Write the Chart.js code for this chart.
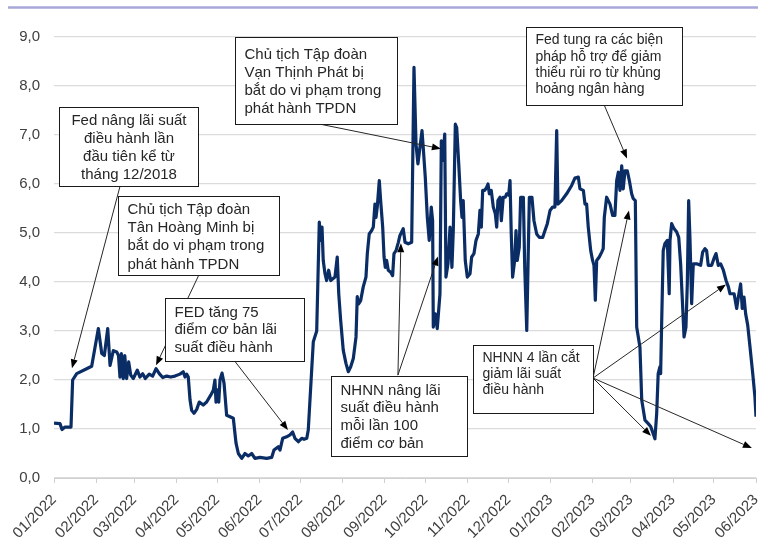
<!DOCTYPE html>
<html>
<head>
<meta charset="utf-8">
<script src="https://cdn.jsdelivr.net/npm/chart.js@4.4.1/dist/chart.umd.min.js"></script>
<style>
  html, body { margin: 0; padding: 0; background: #fff; }
  #wrap { position: relative; width: 758px; height: 544px; }
</style>
</head>
<body>
<div id="wrap"><canvas id="chart" width="758" height="544"></canvas></div>
<script>
// Ngày tính từ 01/01/2022
const dayOffsets = [
  0, 4.4, 5.9, 8.1, 12.5, 13.7, 16.7, 24, 27.7, 32.6,
  35.1, 37, 39.5, 41.2, 43.6, 46.1, 47.4, 48.5, 49.5, 50.9,
  52, 53.4, 54.9, 56.4, 58.3, 61.2, 63.2, 65.2, 67.1, 70,
  72.5, 75, 77.4, 79.9, 82.8, 85.8, 88.9, 92.6, 95, 96.3,
  97.5, 98.7, 100, 101.2, 102.9, 104.9, 106.8, 109.7, 112.2, 115.2,
  117.1, 118.3, 119.1, 120, 121.1, 122, 123.5, 125, 126.9, 129.4,
  131.8, 133.8, 135.5, 138, 140.4, 142.8, 145.3, 147.7, 151.4, 156.3,
  160, 161.7, 164.9, 166.1, 168.1, 171, 173.5, 175.4, 177.1, 179.6,
  182.1, 183.8, 185.8, 186.9, 189.4, 190.6, 193.1, 195, 196, 197,
  197.9, 199.2, 200.4, 201.9, 203.4, 206.5, 208.2, 209.3, 210.7, 212.6,
  214.6, 216.3, 218.1, 220, 222, 222.9, 223.9, 225.4, 227.3, 229.3,
  230.3, 231.7, 233.5, 234.7, 235.9, 236.7, 237.6, 239.1, 240.1, 241.6,
  242.6, 243.5, 244.5, 245.7, 247.5, 248.9, 249.9, 251.4, 253.1, 254.3,
  256.7, 258, 260.4, 262.9, 264.6, 266.1, 267.5, 269, 270.5, 271.4,
  272.9, 274.4, 275.8, 277.3, 278.3, 278.8, 280.3, 281.7, 283.7, 284.7,
  285.7, 287.2, 288.1, 289.6, 291.1, 292.5, 293.5, 295, 296, 297.5,
  298.9, 299.9, 300.8, 302.3, 303.8, 305.8, 307, 308.7, 310.2, 311.9,
  313.1, 314.1, 315.1, 316.6, 318, 319, 320, 321.4, 322.9, 324.4,
  325.4, 326.3, 327.8, 328.8, 330.2, 331.7, 332.7, 334.2, 335.2, 336.1,
  337.1, 338.6, 339.6, 340.5, 342, 343, 345, 346, 347.5, 348.4,
  349.4, 351.3, 352.8, 354.8, 356.7, 359.2, 360.9, 362.6, 364.6, 366.5,
  368.2, 369.5, 370.4, 373.1, 376.8, 380.5, 382.9, 385.4, 386.6, 389.1,
  390.3, 391.5, 392.7, 394.5, 395.9, 396.9, 397.9, 398.9, 400.8, 402.6,
  403.7, 404.5, 406.2, 408.7, 410.6, 412.3, 413.6, 414.8, 416, 417.3,
  418.4, 419.7, 421.4, 422.9, 424.6, 425.8, 427.3, 428.3, 430.7, 432,
  434.4, 436.8, 438.6, 440, 441.7, 443, 444.1, 445.4, 445.9, 446.6,
  447.8, 449, 450.8, 452.2, 452.8, 454, 455.7, 457.7, 459.2, 460.6,
  462.1, 463.1, 464.5, 465.5, 466.5, 467.5, 468.7, 469.9, 472.4, 475.3,
  476.8, 478.5, 479.7, 480.9, 483.4, 485.1, 486.6, 488.3, 490, 492,
  494, 495.7, 496.9, 499.9, 501.8, 503, 504.7, 505.9, 507.2, 508.4,
  509.9, 511.6, 513.6, 515.2, 516
];

// Lãi suất (%)
const rates = [
  1.12, 1.11, 0.99, 1.04, 1.04, 2.0, 2.13, 2.23, 2.28, 3.05,
  2.54, 2.5, 3.05, 2.3, 2.6, 2.57, 2.5, 2.06, 2.54, 2.03,
  2.5, 2.03, 2.37, 2.1, 2.03, 2.2, 2.06, 2.13, 2.03, 2.12,
  2.08, 2.23, 2.13, 2.05, 2.08, 2.06, 2.08, 2.12, 2.17, 2.06,
  2.12, 2.06, 1.59, 1.38, 1.32, 1.4, 1.55, 1.49, 1.55, 1.69,
  1.79, 2.0, 1.55, 1.8, 1.55, 2.0, 2.14, 1.93, 1.28, 1.25,
  1.22, 0.71, 0.5, 0.4, 0.5, 0.45, 0.5, 0.4, 0.42, 0.4,
  0.42, 0.57, 0.64, 0.57, 0.81, 0.84, 0.88, 0.94, 0.81, 0.74,
  0.81, 0.79, 0.81, 0.98, 2.2, 2.78, 3.0, 5.22, 4.85, 5.12,
  4.44, 4.17, 4.03, 4.24, 4.03, 4.1, 4.51, 3.76, 3.22, 2.61,
  2.34, 2.17, 2.27, 2.44, 2.88, 3.7, 3.55, 3.62, 3.9, 4.1,
  4.58, 4.98, 5.05, 5.12, 5.59, 5.32, 5.53, 6.07, 5.66, 5.12,
  4.51, 4.3, 4.44, 4.24, 4.2, 4.13, 4.58, 4.64, 4.81, 4.95,
  5.09, 4.81, 4.78, 4.81, 8.38, 6.82, 6.41, 6.75, 7.09, 6.75,
  6.14, 5.32, 4.85, 5.53, 5.25, 3.08, 3.35, 3.05, 3.76, 6.88,
  6.48, 7.02, 4.1, 4.37, 5.12, 4.3, 5.05, 7.22, 7.15, 6.41,
  5.66, 5.32, 5.66, 4.44, 4.1, 4.17, 4.51, 4.58, 4.85, 4.98,
  5.46, 5.12, 5.87, 5.87, 5.93, 6.0, 5.8, 5.87, 5.53, 5.39,
  5.12, 5.66, 5.73, 5.25, 5.73, 5.73, 5.8, 5.77, 6.07, 4.98,
  4.1, 4.44, 5.05, 4.44, 4.71, 5.73, 5.73, 4.3, 3.01, 4.3,
  5.73, 5.73, 5.25, 4.98, 4.91, 4.91, 5.05, 5.19, 5.46, 5.53,
  5.53, 7.09, 5.59, 5.66, 5.8, 5.97, 6.12, 6.14, 5.9, 5.87,
  5.59, 5.59, 5.12, 4.64, 4.44, 4.34, 3.63, 4.44, 4.51, 4.61,
  4.68, 5.32, 5.73, 5.59, 5.36, 5.36, 6.07, 6.24, 5.87, 6.37,
  5.9, 6.27, 6.27, 6.07, 5.8, 5.7, 5.66, 3.08, 2.67, 1.59,
  1.18, 1.11, 1.05, 0.94, 0.8, 1.32, 2.13, 2.27, 2.13, 3.08,
  4.64, 4.78, 4.85, 3.76, 4.85, 5.19, 5.09, 5.02, 4.91, 4.37,
  3.49, 2.88, 3.08, 3.96, 5.66, 4.85, 3.56, 4.37, 4.37, 4.34,
  4.61, 4.68, 4.64, 4.34, 4.34, 4.48, 4.58, 4.34, 4.37, 4.24,
  4.03, 3.9, 3.76, 3.76, 3.46, 3.69, 3.96, 3.46, 3.69, 3.35,
  3.12, 2.67, 2.13, 1.66, 1.25
];

// Mốc đầu tháng (ngày tính từ 01/01/2022) và nhãn trục hoành
const monthStarts = [0, 31, 59, 90, 120, 151, 181, 212, 243, 273, 304, 334, 365, 396, 424, 455, 485, 516];
const monthLabels = [
  "01/2022", "02/2022", "03/2022", "04/2022", "05/2022", "06/2022",
  "07/2022", "08/2022", "09/2022", "10/2022", "11/2022", "12/2022",
  "01/2023", "02/2023", "03/2023", "04/2023", "05/2023", "06/2023"
];

// Chú thích: vị trí góc trên trái theo (ngày, giá trị), mũi tên trỏ vào (ngày, giá trị)
const notes = [
  { lines: ["Fed nâng lãi suất", "điều hành lần", "đầu tiên kể từ", "tháng 12/2018"],
    at: [3.7, 7.58], w: 139, h: 79, align: "center", size: 15, lh: 18, pad: 13,
    from: [48.5, 5.95], to: [[13.2, 2.24]] },
  { lines: ["Chủ tịch Tập đoàn", "Tân Hoàng Minh bị", "bắt do vi phạm trong", "phát hành TPDN"],
    at: [47.0, 5.76], w: 161, h: 79, align: "left", size: 15, lh: 18.3, pad: 13,
    from: [106.6, 4.15], to: [[75.0, 2.3]] },
  { lines: ["FED tăng 75", "điểm cơ bản lãi", "suất điều hành"],
    at: [81.6, 3.67], w: 139, h: 63, align: "left", size: 15, lh: 17.5, pad: 14,
    from: [133.0, 2.38], to: [[172.0, 0.98]] },
  { lines: ["Chủ tịch Tập đoàn", "Vạn Thịnh Phát bị", "bắt do vi phạm trong", "phát hành TPDN"],
    at: [133.0, 9.0], w: 162, h: 87, align: "left", size: 15, lh: 18, pad: 17,
    from: [194.0, 7.23], to: [[284.4, 6.72]] },
  { lines: ["Fed tung ra các biện", "pháp hỗ trợ để giảm", "thiểu rủi ro từ khủng", "hoảng ngân hàng"],
    at: [346.9, 9.2], w: 156, h: 78, align: "left", size: 14, lh: 16.3, pad: 13,
    from: [404.3, 7.62], to: [[421.2, 6.52]] },
  { lines: ["NHNN nâng lãi", "suất điều hành", "mỗi lần 100", "điểm cơ bản"],
    at: [203.6, 2.08], w: 136, h: 80, align: "left", size: 15, lh: 17.7, pad: 14,
    from: [252.8, 2.1], to: [[255.0, 4.79], [282.2, 4.52]] },
  { lines: ["NHNN 4 lần cắt", "giảm lãi suất", "điều hành"],
    at: [308.0, 2.71], w: 120, h: 68, align: "left", size: 14, lh: 16, pad: 13,
    from: [396.2, 2.04], to: [[422.6, 5.46], [438.8, 0.86], [493.9, 3.95], [513.0, 0.61]] }
];

const FONT = "'Liberation Sans', Arial, sans-serif";
Chart.defaults.font.family = FONT;
Chart.defaults.color = "#404040";

function drawArrow(ctx, x1, y1, x2, y2) {
  const ang = Math.atan2(y2 - y1, x2 - x1);
  const len = 9, half = 3.5;
  ctx.beginPath();
  ctx.moveTo(x1, y1);
  ctx.lineTo(x2 - Math.cos(ang) * len, y2 - Math.sin(ang) * len);
  ctx.stroke();
  ctx.beginPath();
  ctx.moveTo(x2, y2);
  ctx.lineTo(x2 - Math.cos(ang) * len - Math.sin(ang) * half, y2 - Math.sin(ang) * len + Math.cos(ang) * half);
  ctx.lineTo(x2 - Math.cos(ang) * len + Math.sin(ang) * half, y2 - Math.sin(ang) * len - Math.cos(ang) * half);
  ctx.closePath();
  ctx.fill();
}

const notesPlugin = {
  id: "notes",
  beforeDraw(chart) {
    const ctx = chart.ctx;
    ctx.save();
    ctx.strokeStyle = "#a7a7da";
    ctx.lineWidth = 2.5;
    ctx.beginPath();
    ctx.moveTo(8, 7.5);
    ctx.lineTo(758, 7.5);
    ctx.stroke();
    ctx.restore();
  },
  afterDatasetsDraw(chart) {
    const ctx = chart.ctx;
    const xs = chart.scales.x, ys = chart.scales.y;
    ctx.save();
    notes.forEach(n => {
      // mũi tên
      ctx.strokeStyle = "#262626";
      ctx.fillStyle = "#000";
      ctx.lineWidth = 1;
      const fx = xs.getPixelForValue(n.from[0]), fy = ys.getPixelForValue(n.from[1]);
      n.to.forEach(t => drawArrow(ctx, fx, fy, xs.getPixelForValue(t[0]), ys.getPixelForValue(t[1])));
    });
    notes.forEach(n => {
      const left = Math.round(xs.getPixelForValue(n.at[0])) + 0.5;
      const top = Math.round(ys.getPixelForValue(n.at[1])) + 0.5;
      ctx.fillStyle = "#fff";
      ctx.fillRect(left, top, n.w, n.h);
      ctx.strokeStyle = "#1a1a1a";
      ctx.lineWidth = 1;
      ctx.strokeRect(left, top, n.w, n.h);
      ctx.fillStyle = "#262626";
      ctx.font = n.size + "px " + FONT;
      ctx.textBaseline = "middle";
      ctx.textAlign = n.align;
      const tx = n.align === "center" ? left + n.w / 2 : left + 9;
      n.lines.forEach((s, i) => ctx.fillText(s, tx, top + n.pad + i * n.lh));
    });
    ctx.restore();
  }
};

new Chart(document.getElementById("chart"), {
  type: "line",
  data: {
    datasets: [{
      data: dayOffsets.map((d, i) => ({ x: d, y: rates[i] })),
      borderColor: "#0b2d66",
      borderWidth: 3.2,
      pointRadius: 0,
      tension: 0,
      borderJoinStyle: "round",
      fill: false
    }]
  },
  options: {
    responsive: false,
    animation: false,
    layout: { padding: { top: 37, right: 2, left: 0, bottom: 0 } },
    plugins: { legend: { display: false }, tooltip: { enabled: false } },
    scales: {
      x: {
        type: "linear",
        min: 0,
        max: 516,
        afterBuildTicks: s => { s.ticks = monthStarts.map(v => ({ value: v })); },
        afterFit: s => { s.height = 66; s.paddingLeft = 0; s.paddingRight = 0; },
        ticks: {
          autoSkip: false,
          minRotation: 45,
          maxRotation: 45,
          padding: 8,
          font: { size: 15 },
          callback: (v, i) => monthLabels[i]
        },
        grid: { drawOnChartArea: false, drawTicks: true, tickLength: 5, color: "#d0d0d0" },
        border: { display: true, color: "#d0d0d0", width: 1 }
      },
      y: {
        min: 0,
        max: 9,
        afterFit: s => { s.width = 54; s.paddingTop = 0; s.paddingBottom = 0; },
        ticks: {
          stepSize: 1,
          padding: 14,
          font: { size: 15 },
          callback: v => v.toFixed(1).replace(".", ",")
        },
        grid: { color: "#dcdcdc", lineWidth: 1.3, drawTicks: false },
        border: { display: false }
      }
    }
  },
  plugins: [notesPlugin]
});
</script>
</body>
</html>
